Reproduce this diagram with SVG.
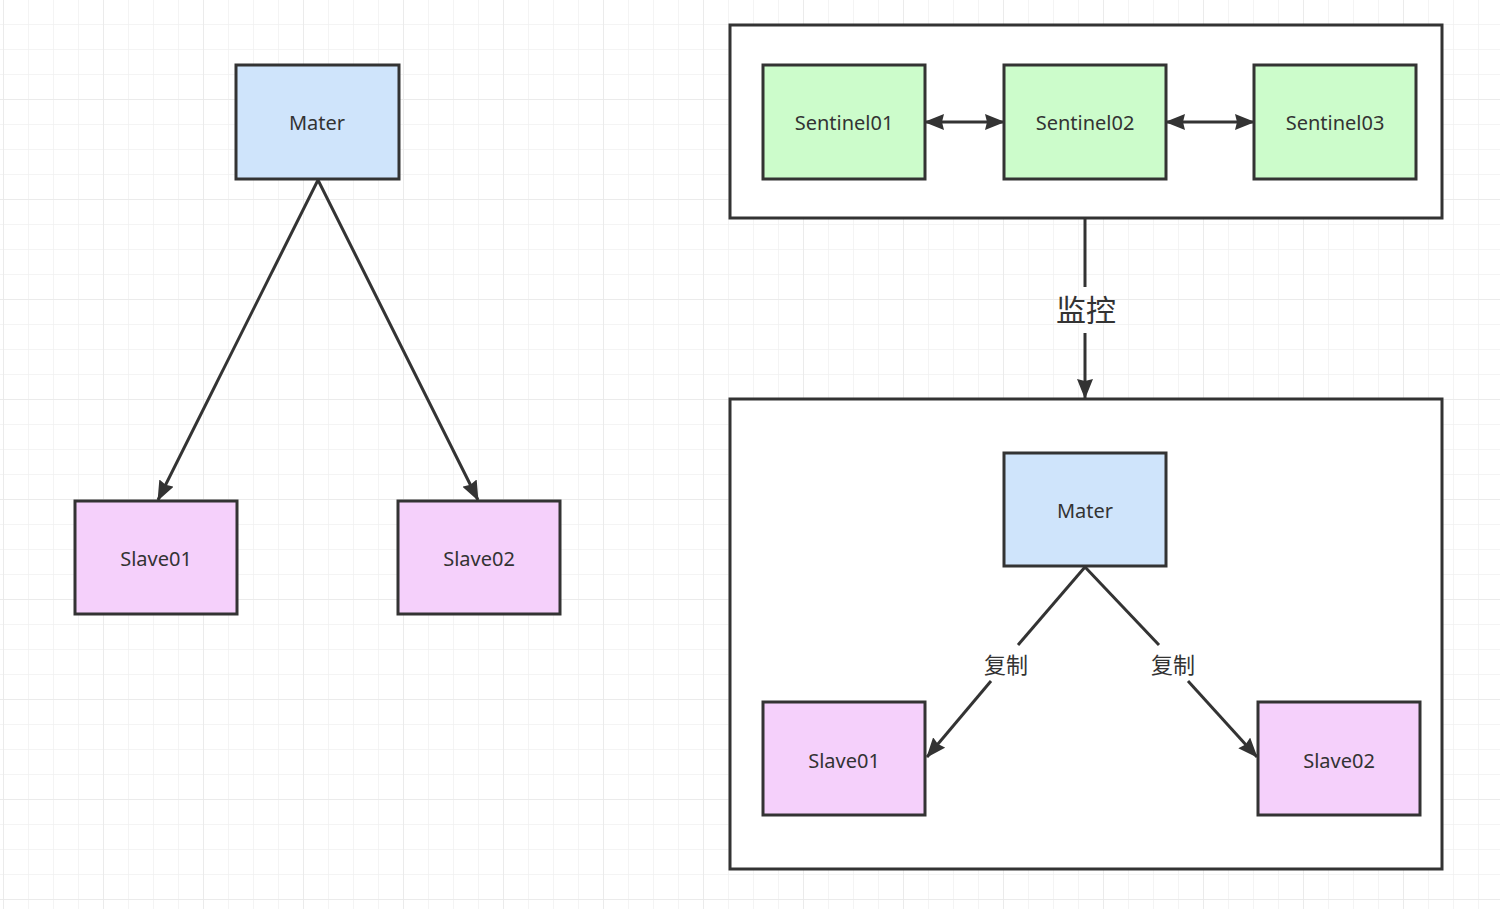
<svg xmlns="http://www.w3.org/2000/svg" width="1500" height="909" viewBox="0 0 1500 909">
<style>
.n{stroke:#333;stroke-width:3}
.b{fill:#cfe4fb}.g{fill:#ccfccb}.p{fill:#f5d0fb}
.box{fill:#fff;stroke:#333;stroke-width:3}
.t{font-family:"Noto Sans","Liberation Sans",Arial,sans-serif;font-size:20px;fill:#333;text-anchor:middle;dominant-baseline:central}
.c{font-family:"Noto Sans CJK SC",sans-serif;fill:#333;text-anchor:middle;dominant-baseline:central}
.e{stroke:#333;stroke-width:3;fill:none}
</style>
<defs>
<pattern id="gm" width="25" height="25" patternUnits="userSpaceOnUse" x="3" y="-1">
<path d="M0 0H25M0 0V25" stroke="#f1f1f1" stroke-width="1.5" fill="none"/>
</pattern>
<pattern id="gM" width="100" height="100" patternUnits="userSpaceOnUse" x="3" y="-1">
<path d="M0 0H100M0 0V100" stroke="#e9e9e9" stroke-width="1.5" fill="none"/>
</pattern>
<marker id="ar" viewBox="0 0 20 16" refX="19" refY="8" markerWidth="20" markerHeight="16" markerUnits="userSpaceOnUse" orient="auto-start-reverse">
<path d="M0 0L20 8L0 16L2 8Z" fill="#333"/>
</marker>
</defs>
<rect width="1500" height="909" fill="#fff"/>
<rect width="1500" height="909" fill="url(#gm)"/>
<rect width="1500" height="909" fill="url(#gM)"/>

<g id="container-sentinels"><rect class="box" x="730" y="25" width="712" height="193"/></g>
<g id="container-cluster"><rect class="box" x="730" y="399" width="712" height="470"/></g>

<g id="connectors">
<line class="e" x1="318" y1="180" x2="158" y2="500" marker-end="url(#ar)"/>
<line class="e" x1="318" y1="180" x2="478" y2="500" marker-end="url(#ar)"/>
<line class="e" x1="925" y1="122" x2="1004" y2="122" marker-start="url(#ar)" marker-end="url(#ar)"/>
<line class="e" x1="1166" y1="122" x2="1254" y2="122" marker-start="url(#ar)" marker-end="url(#ar)"/>
<line class="e" x1="1085" y1="218" x2="1085" y2="287"/>
<line class="e" x1="1085" y1="333" x2="1085" y2="398" marker-end="url(#ar)"/>
<line class="e" x1="1085" y1="567" x2="1018" y2="645"/>
<line class="e" x1="991" y1="681" x2="927" y2="757" marker-end="url(#ar)"/>
<line class="e" x1="1085" y1="567" x2="1159" y2="645"/>
<line class="e" x1="1188" y1="681" x2="1257" y2="757" marker-end="url(#ar)"/>
<text class="c" x="1086" y="308" font-size="30">监控</text>
<text class="c" x="1006" y="663" font-size="22">复制</text>
<text class="c" x="1173" y="663" font-size="22">复制</text>
</g>

<g id="l-master"><rect class="n b" x="236" y="65" width="163" height="114"/><text class="t" x="317" y="122">Mater</text></g>
<g id="l-slave01"><rect class="n p" x="75" y="501" width="162" height="113"/><text class="t" x="156" y="558">Slave01</text></g>
<g id="l-slave02"><rect class="n p" x="398" y="501" width="162" height="113"/><text class="t" x="479" y="558">Slave02</text></g>

<g id="sentinel01"><rect class="n g" x="763" y="65" width="162" height="114"/><text class="t" x="844" y="122">Sentinel01</text></g>
<g id="sentinel02"><rect class="n g" x="1004" y="65" width="162" height="114"/><text class="t" x="1085" y="122">Sentinel02</text></g>
<g id="sentinel03"><rect class="n g" x="1254" y="65" width="162" height="114"/><text class="t" x="1335" y="122">Sentinel03</text></g>

<g id="r-master"><rect class="n b" x="1004" y="453" width="162" height="113"/><text class="t" x="1085" y="510">Mater</text></g>
<g id="r-slave01"><rect class="n p" x="763" y="702" width="162" height="113"/><text class="t" x="844" y="760">Slave01</text></g>
<g id="r-slave02"><rect class="n p" x="1258" y="702" width="162" height="113"/><text class="t" x="1339" y="760">Slave02</text></g>
</svg>
